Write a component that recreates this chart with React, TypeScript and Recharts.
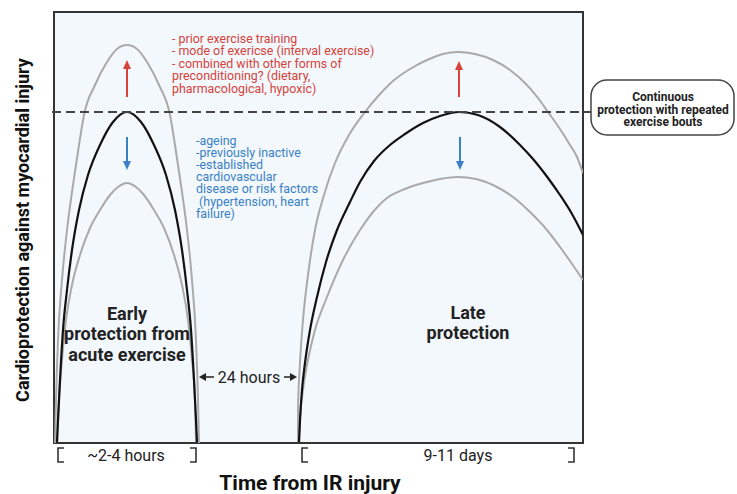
import React from 'react';
import {
    ComposedChart,
    Line,
    XAxis,
    YAxis,
    ReferenceArea,
    ReferenceLine,
} from 'recharts';

// arbitrary units: x = time from IR injury, y = cardioprotection level
const earlyBaseline = [
    { x: 3, y: 1 }, { x: 4, y: 23 }, { x: 6, y: 63 }, { x: 9, y: 113 }, { x: 13, y: 153 },
    { x: 18, y: 193 }, { x: 25, y: 233 }, { x: 34, y: 268 }, { x: 46, y: 298 }, { x: 59, y: 321 },
    { x: 73, y: 331 }, { x: 87, y: 321 }, { x: 100, y: 298 }, { x: 112, y: 268 }, { x: 121, y: 233 },
    { x: 128, y: 193 }, { x: 133, y: 153 }, { x: 137, y: 113 }, { x: 140, y: 63 }, { x: 142, y: 23 },
    { x: 143, y: 1 },
];
const earlyEnhanced = [
    { x: 1, y: 0 }, { x: 2, y: 43 }, { x: 4, y: 103 }, { x: 8, y: 163 }, { x: 13, y: 213 },
    { x: 19, y: 258 }, { x: 25, y: 298 }, { x: 30, y: 328 }, { x: 41, y: 358 }, { x: 53, y: 381 },
    { x: 63, y: 394 }, { x: 73, y: 398 }, { x: 83, y: 394 }, { x: 93, y: 381 }, { x: 105, y: 358 },
    { x: 116, y: 328 }, { x: 121, y: 298 }, { x: 127, y: 258 }, { x: 133, y: 213 }, { x: 138, y: 163 },
    { x: 142, y: 103 }, { x: 144, y: 43 }, { x: 145, y: 0 },
];
const earlyReduced = [
    { x: 3, y: 1 }, { x: 5, y: 43 }, { x: 8, y: 83 }, { x: 12, y: 123 }, { x: 18, y: 158 },
    { x: 26, y: 188 }, { x: 36, y: 215 }, { x: 46, y: 233 }, { x: 56, y: 248 }, { x: 64, y: 256 },
    { x: 73, y: 260 }, { x: 82, y: 256 }, { x: 90, y: 248 }, { x: 100, y: 233 }, { x: 110, y: 215 },
    { x: 120, y: 188 }, { x: 128, y: 158 }, { x: 134, y: 123 }, { x: 138, y: 83 }, { x: 141, y: 43 },
    { x: 142, y: 1 },
];
const lateBaseline = [
    { x: 245, y: 1 }, { x: 246, y: 23 }, { x: 248, y: 53 }, { x: 251, y: 80 }, { x: 256, y: 113 },
    { x: 263, y: 146 }, { x: 272, y: 181 }, { x: 283, y: 213 }, { x: 296, y: 241 }, { x: 306, y: 261 },
    { x: 320, y: 282 }, { x: 336, y: 298 }, { x: 351, y: 309 }, { x: 369, y: 320 }, { x: 386, y: 327 },
    { x: 405, y: 331 }, { x: 424, y: 328 }, { x: 446, y: 316 }, { x: 466, y: 298 }, { x: 479, y: 284 },
    { x: 494, y: 265 }, { x: 506, y: 248 }, { x: 518, y: 229 }, { x: 529, y: 208 },
];
const lateEnhanced = [
    { x: 244, y: 1 }, { x: 244, y: 33 }, { x: 246, y: 80 }, { x: 249, y: 123 }, { x: 254, y: 168 },
    { x: 261, y: 213 }, { x: 270, y: 248 }, { x: 281, y: 280 }, { x: 295, y: 308 }, { x: 311, y: 331 },
    { x: 326, y: 349 }, { x: 339, y: 362 }, { x: 356, y: 374 }, { x: 373, y: 383 }, { x: 389, y: 389 },
    { x: 404, y: 391 }, { x: 421, y: 389 }, { x: 439, y: 383 }, { x: 456, y: 373 }, { x: 471, y: 360 },
    { x: 484, y: 345 }, { x: 494, y: 331 }, { x: 506, y: 314 }, { x: 516, y: 298 }, { x: 523, y: 286 },
    { x: 529, y: 270 },
];
const lateReduced = [
    { x: 245, y: 1 }, { x: 246, y: 23 }, { x: 249, y: 53 }, { x: 254, y: 83 }, { x: 261, y: 113 },
    { x: 273, y: 146 }, { x: 288, y: 181 }, { x: 306, y: 213 }, { x: 319, y: 231 }, { x: 333, y: 245 },
    { x: 351, y: 254 }, { x: 369, y: 260 }, { x: 386, y: 264 }, { x: 404, y: 266 }, { x: 422, y: 264 },
    { x: 441, y: 257 }, { x: 459, y: 246 }, { x: 476, y: 231 }, { x: 493, y: 213 }, { x: 506, y: 196 },
    { x: 516, y: 182 }, { x: 529, y: 163 },
];

const thresholdLevel = 331;

const enhancers = [
    '- prior exercise training',
    '- mode of exericse (interval exercise)',
    '- combined with other forms of',
    'preconditioning? (dietary,',
    'pharmacological, hypoxic)',
];
const reducers = [
    '-ageing',
    '-previously inactive',
    '-established',
    'cardiovascular',
    'disease or risk factors',
    '\u00a0(hypertension, heart',
    'failure)',
];
const earlyLabel = ['Early', 'protection from', 'acute exercise'];
const lateLabel = ['Late', 'protection'];
const boxLabel = ['Continuous', 'protection with repeated', 'exercise bouts'];

const FONT = 'Roboto, "Noto Sans", sans-serif';
const RED = '#d5433b';
const BLUE = '#3a80c6';
const INK = '#222';

const UpArrow = ({ x, y1, y2, color }: { x: number; y1: number; y2: number; color: string }) => (
    <g>
        <line x1={x} y1={y1} x2={x} y2={y2 + 8} stroke={color} strokeWidth={2} />
        <path d={`M${x - 4},${y2 + 9} L${x},${y2} L${x + 4},${y2 + 9} Z`} fill={color} />
    </g>
);
const DownArrow = ({ x, y1, y2, color }: { x: number; y1: number; y2: number; color: string }) => (
    <g>
        <line x1={x} y1={y1} x2={x} y2={y2 - 8} stroke={color} strokeWidth={2} />
        <path d={`M${x - 4},${y2 - 9} L${x},${y2} L${x + 4},${y2 - 9} Z`} fill={color} />
    </g>
);

// text and callouts drawn over the chart
const Annotations = () => (
    <svg
        width={737}
        height={494}
        style={{ position: 'absolute', left: 0, top: 0, pointerEvents: 'none' }}
        fontFamily={FONT}
    >
        <text
            x={22}
            y={230}
            transform="rotate(-90 22 230)"
            textAnchor="middle"
            dominantBaseline="central"
            fontSize={18}
            fontWeight={700}
            fill="#111"
        >
            Cardioprotection against myocardial injury
        </text>
        <text x={310} y={483} textAnchor="middle" dominantBaseline="central" fontSize={21} fontWeight={700} fill="#111">
            Time from IR injury
        </text>

        {enhancers.map((t, i) => (
            <text key={t} x={172} y={38 + i * 12.5} dominantBaseline="central" fontSize={12.4} fill={RED}>
                {t}
            </text>
        ))}
        {reducers.map((t, i) => (
            <text key={t} x={196} y={140 + i * 12.2} dominantBaseline="central" fontSize={12.4} fill={BLUE}>
                {t}
            </text>
        ))}
        <UpArrow x={127} y1={97} y2={60} color={RED} />
        <DownArrow x={127} y1={137} y2={170} color={BLUE} />
        <UpArrow x={459} y1={97} y2={61} color={RED} />
        <DownArrow x={460} y1={137} y2={170} color={BLUE} />

        {earlyLabel.map((t, i) => (
            <text key={t} x={127} y={313 + i * 20.5} textAnchor="middle" dominantBaseline="central" fontSize={18} fontWeight={700} fill={INK}>
                {t}
            </text>
        ))}
        {lateLabel.map((t, i) => (
            <text key={t} x={468} y={312 + i * 20.5} textAnchor="middle" dominantBaseline="central" fontSize={18} fontWeight={700} fill={INK}>
                {t}
            </text>
        ))}

        {/* 24 hours gap */}
        <line x1={214} y1={377} x2={204} y2={377} stroke={INK} strokeWidth={1.5} />
        <path d="M206,373 L199,377 L206,381 Z" fill={INK} />
        <text x={249} y={377} textAnchor="middle" dominantBaseline="central" fontSize={16} fill={INK}>
            24 hours
        </text>
        <line x1={284} y1={377} x2={292} y2={377} stroke={INK} strokeWidth={1.5} />
        <path d="M290,373 L297,377 L290,381 Z" fill={INK} />

        {/* duration brackets */}
        <path d="M64,448 L58,448 L58,462 L64,462" fill="none" stroke="#333" strokeWidth={1.6} />
        <text x={126} y={455} textAnchor="middle" dominantBaseline="central" fontSize={16} fill={INK}>
            ~2-4 hours
        </text>
        <path d="M190,448 L196,448 L196,462 L190,462" fill="none" stroke="#333" strokeWidth={1.6} />
        <path d="M308,448 L302,448 L302,462 L308,462" fill="none" stroke="#333" strokeWidth={1.6} />
        <text x={458} y={455} textAnchor="middle" dominantBaseline="central" fontSize={16} fill={INK}>
            9-11 days
        </text>
        <path d="M568,448 L574,448 L574,462 L568,462" fill="none" stroke="#333" strokeWidth={1.6} />

        {/* continuous protection box */}
        <rect x={591} y={80} width={143} height={55} rx={16} fill="#fff" stroke="#444" strokeWidth={1.5} />
        {boxLabel.map((t, i) => (
            <text key={t} x={663} y={97 + i * 12.5} textAnchor="middle" dominantBaseline="central" fontSize={12} fontWeight={700} fill={INK}>
                {t}
            </text>
        ))}
    </svg>
);

export default function App() {
    return (
        <div style={{ position: 'absolute', left: 0, top: 0, width: 737, height: 494, background: '#fff' }}>
            <ComposedChart width={737} height={494} margin={{ top: 12, right: 154, bottom: 51, left: 54 }}>
                <XAxis dataKey="x" type="number" domain={[0, 529]} hide allowDataOverflow />
                <YAxis type="number" domain={[0, 431]} hide allowDataOverflow />
                <ReferenceArea x1={0} x2={529} y1={0} y2={431} fill="#f3f8fd" fillOpacity={1} stroke="#333" strokeWidth={2} />

                <Line data={earlyEnhanced} dataKey="y" type="monotone" stroke="#aaaaaa" strokeWidth={2} dot={false} isAnimationActive={false} />
                <Line data={earlyReduced} dataKey="y" type="monotone" stroke="#aaaaaa" strokeWidth={2} dot={false} isAnimationActive={false} />
                <Line data={earlyBaseline} dataKey="y" type="monotone" stroke="#111" strokeWidth={2.2} dot={false} isAnimationActive={false} />
                <Line data={lateEnhanced} dataKey="y" type="monotone" stroke="#aaaaaa" strokeWidth={2} dot={false} isAnimationActive={false} />
                <Line data={lateReduced} dataKey="y" type="monotone" stroke="#aaaaaa" strokeWidth={2} dot={false} isAnimationActive={false} />
                <Line data={lateBaseline} dataKey="y" type="monotone" stroke="#111" strokeWidth={2.2} dot={false} isAnimationActive={false} />

                <ReferenceLine
                    segment={[{ x: -2, y: thresholdLevel }, { x: 537, y: thresholdLevel }]}
                    ifOverflow="visible"
                    stroke="#444"
                    strokeWidth={2}
                    strokeDasharray="9 5"
                />
            </ComposedChart>
            <Annotations />
        </div>
    );
}
